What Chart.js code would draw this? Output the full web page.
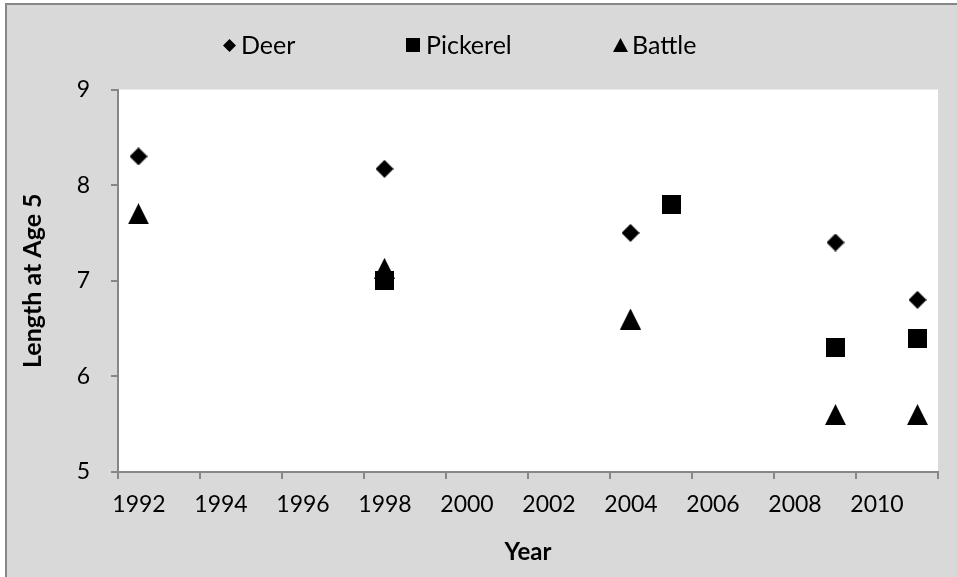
<!DOCTYPE html>
<html>
<head>
<meta charset="utf-8">
<title>Length at Age 5</title>
<script src="https://cdn.jsdelivr.net/npm/chart.js@4.4.1/dist/chart.umd.min.js"></script>
<style>
  body { margin: 0; background: #fff; }
  #frame { position: absolute; left: 5px; top: 3px; width: 970px; height: 590px; background: #d9d9d9; border-left: 2px solid #878787; border-top: 2px solid #878787; }
  #wrap { position: absolute; left: 0; top: 0; width: 957px; height: 577px; }
</style>
</head>
<body>
<div id="frame"></div>
<div id="wrap"><canvas id="lenChart" width="957" height="577"></canvas></div>
<script>
// dati
const seriesNames = ['Deer', 'Pickerel', 'Battle'];
const deerYears = [1992.5, 1998.5, 2004.5, 2009.5, 2011.5];
const deerLength = [8.3, 8.17, 7.5, 7.4, 6.8];
const pickerelYears = [1998.5, 2005.5, 2009.5, 2011.5];
const pickerelLength = [7.0, 7.8, 6.3, 6.4];
const battleYears = [1992.5, 1998.5, 2004.5, 2009.5, 2011.5];
const battleLength = [7.7, 7.13, 6.6, 5.6, 5.6];
const yearTicks = [1992, 1994, 1996, 1998, 2000, 2002, 2004, 2006, 2008, 2010];
const lengthTicks = [5, 6, 7, 8, 9];

const FONT = 'Lato';
const AXIS_COLOR = '#878787';

// marker disegnati su un piccolo canvas (centrati sul punto)
function makeMarker(shape, w, h) {
    const c = document.createElement('canvas');
    c.width = w; c.height = h;
    const g = c.getContext('2d');
    g.fillStyle = '#000';
    g.beginPath();
    if (shape === 'diamond') {
        g.moveTo(w / 2, 0); g.lineTo(w, h / 2); g.lineTo(w / 2, h); g.lineTo(0, h / 2);
    } else if (shape === 'square') {
        g.rect(0, 0, w, h);
    } else {
        g.moveTo(w / 2, 0); g.lineTo(w, h); g.lineTo(0, h);
    }
    g.closePath();
    g.fill();
    return c;
}

const pointMarkers = [makeMarker('diamond', 18, 18), makeMarker('square', 19, 19), makeMarker('triangle', 21, 21)];
const legendMarkers = [makeMarker('diamond', 13, 13), makeMarker('square', 14, 14), makeMarker('triangle', 15, 14)];

function toPoints(xs, ys) {
    return xs.map((x, i) => ({ x: x, y: ys[i] }));
}

// sfondo bianco dell'area del grafico
const plotBackground = {
    id: 'plotBackground',
    beforeDraw(chart) {
        const { ctx, chartArea } = chart;
        ctx.save();
        ctx.fillStyle = '#fff';
        ctx.fillRect(chartArea.left, chartArea.top, chartArea.right - chartArea.left, chartArea.bottom - chartArea.top);
        ctx.restore();
    }
};

// legenda in alto, come in Excel
const topLegend = {
    id: 'topLegend',
    afterDraw(chart) {
        const ctx = chart.ctx;
        const items = [{ mx: 229, tx: 241 }, { mx: 413, tx: 426 }, { mx: 620, tx: 632 }];
        const y = 45;
        ctx.save();
        ctx.font = '25px ' + FONT;
        ctx.fillStyle = '#000';
        ctx.textBaseline = 'middle';
        ctx.textAlign = 'left';
        items.forEach((it, i) => {
            const m = legendMarkers[i];
            ctx.drawImage(m, Math.round(it.mx - m.width / 2), Math.round(y - m.height / 2));
            ctx.fillText(seriesNames[i], it.tx, y + 1);
        });
        ctx.restore();
    }
};

const ctx = document.getElementById('lenChart').getContext('2d');
const chart = new Chart(ctx, {
    type: 'scatter',
    data: {
        datasets: [
            { label: seriesNames[0], data: toPoints(deerYears, deerLength), pointStyle: pointMarkers[0], pointRadius: 10 },
            { label: seriesNames[1], data: toPoints(pickerelYears, pickerelLength), pointStyle: pointMarkers[1], pointRadius: 10 },
            { label: seriesNames[2], data: toPoints(battleYears, battleLength), pointStyle: pointMarkers[2], pointRadius: 10 }
        ]
    },
    options: {
        responsive: false,
        animation: false,
        layout: { padding: { left: 0, top: 89.5, right: 19, bottom: 0 } },
        plugins: {
            legend: { display: false },
            tooltip: { enabled: false }
        },
        scales: {
            x: {
                type: 'linear',
                min: 1992,
                max: 2012,
                afterFit: s => { s.height = 105; },
                ticks: {
                    stepSize: 2,
                    labelOffset: 21,
                    padding: 12,
                    maxRotation: 0,
                    autoSkip: false,
                    color: '#000',
                    font: { family: FONT, size: 23 },
                    callback: v => yearTicks.includes(v) ? String(v) : ''
                },
                grid: { drawOnChartArea: false, drawTicks: true, tickLength: 7, color: AXIS_COLOR, lineWidth: 2 },
                border: { color: AXIS_COLOR, width: 2 },
                title: {
                    display: true,
                    text: 'Year',
                    color: '#000',
                    font: { family: FONT, size: 24, weight: 'bold' },
                    padding: { top: 0, bottom: 10 }
                }
            },
            y: {
                min: 5,
                max: 9,
                afterFit: s => { s.width = 118; },
                ticks: {
                    stepSize: 1,
                    padding: 21,
                    color: '#000',
                    font: { family: FONT, size: 23 },
                    callback: v => lengthTicks.includes(v) ? String(v) : ''
                },
                grid: { drawOnChartArea: false, drawTicks: true, tickLength: 7, color: AXIS_COLOR, lineWidth: 2 },
                border: { color: AXIS_COLOR, width: 2 },
                title: {
                    display: true,
                    text: 'Length at Age 5',
                    color: '#000',
                    font: { family: FONT, size: 25, weight: 'bold' },
                    padding: { top: 18, bottom: 0 }
                }
            }
        }
    },
    plugins: [plotBackground, topLegend]
});
</script>
</body>
</html>
